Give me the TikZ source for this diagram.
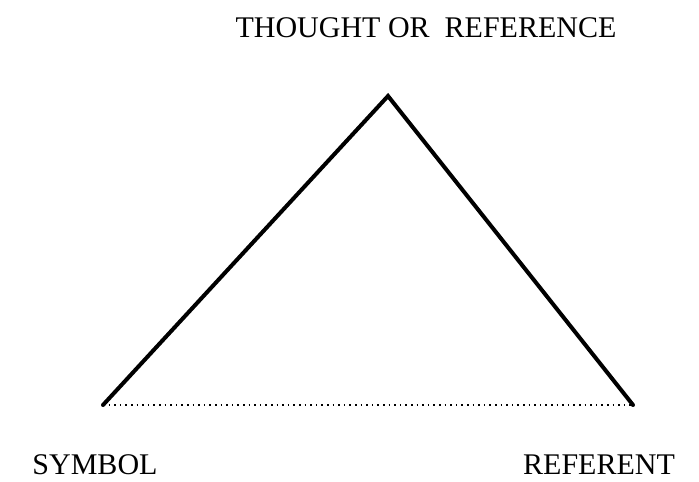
\documentclass[tikz,border=0pt]{standalone}
\usepackage{fontspec}
\setmainfont{Liberation Serif}
\usetikzlibrary{positioning}

\begin{document}
\begin{tikzpicture}[x=0.5pt, y=-0.5pt,
  word/.style={inner sep=0pt, font=\fontsize{15}{18}\selectfont},
  side/.style={line width=2pt, line cap=round},
  base/.style={line width=0.8pt, dotted}
]
  \useasboundingbox (0,0) rectangle (699,481);
  \coordinate (top) at (388,96);
  \coordinate (sym) at (103,405);
  \coordinate (ref) at (633,405);
  \node[word] (thought) at (426,28) {THOUGHT OR\ \ REFERENCE};
  \node[word] (symbol) at (95,465) {SYMBOL};
  \node[word] (referent) at (599,465) {REFERENT};
  \draw[side] (sym) -- (top) -- (ref);
  \draw[base] (sym) -- (ref);
\end{tikzpicture}
\end{document}
